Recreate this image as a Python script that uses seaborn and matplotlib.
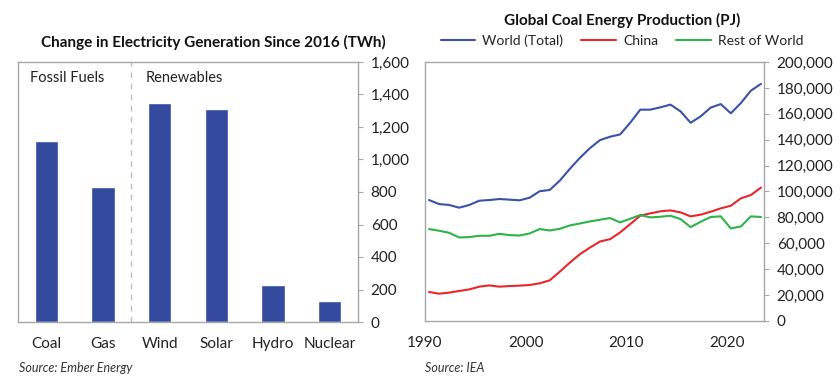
import numpy as np
import matplotlib.pyplot as plt
import matplotlib.ticker as mticker
import pandas as pd
import seaborn as sns

# left panel: change in generation since 2016 (TWh)
categories = ["Coal", "Gas", "Wind", "Solar", "Hydro", "Nuclear"]
change_twh = [1115, 830, 1350, 1310, 228, 128]

# right panel: global coal energy production (PJ)
years = list(range(1990, 2024))
world = [93400, 90300, 89600, 87500, 89600, 92900, 93400, 94200, 93700, 93200,
         95200, 100200, 101200, 108400, 117500, 126000, 133500, 139700, 142300, 144100,
         153100, 163200, 163200, 165000, 167100, 161900, 153100, 158000, 164800, 167500,
         160400, 168300, 177900, 183100]
china = [22400, 21100, 21900, 23200, 24400, 26500, 27500, 26500, 27000, 27300,
         27800, 29100, 31400, 38100, 45100, 51600, 56700, 61400, 63200, 68400,
         74800, 81300, 83100, 84700, 85400, 83900, 80800, 82100, 84400, 87000,
         89000, 94700, 97300, 103000]
rest = [71000, 69700, 68100, 64500, 64800, 65800, 65800, 67300, 66300, 66000,
        67600, 71000, 69900, 71200, 73800, 75300, 76900, 78200, 79500, 76100,
        79000, 81800, 80000, 80500, 81300, 78700, 72500, 76600, 80300, 80800,
        71500, 73000, 80800, 80300]
series_names = ["World (Total)", "China", "Rest of World"]
series_colors = ["#3a51a8", "#e8262c", "#2db34a"]

sns.set_style("white")
plt.rcParams["font.family"] = ["Lato", "DejaVu Sans"]

GREY = "#a6a6a6"
TXT = "#222222"

fig = plt.figure(figsize=(8.4, 3.89), dpi=100)
ax1 = fig.add_axes([18 / 840, 1 - 322 / 389, 340 / 840, 260 / 389])
ax2 = fig.add_axes([425 / 840, 1 - 321 / 389, 339 / 840, 259 / 389])

# ---- bars
bars = pd.DataFrame({"cat": categories, "val": change_twh})
sns.barplot(data=bars, x="cat", y="val", color="#344a9e", width=0.41,
            saturation=1, ax=ax1)
ax1.set_xlim(-0.5, 5.5)
ax1.set_ylim(0, 1600)
ax1.set_yticks(np.arange(0, 1601, 200))
ax1.yaxis.set_major_formatter(mticker.StrMethodFormatter("{x:,.0f}"))
ax1.yaxis.tick_right()
ax1.set_xticks(np.arange(-0.5, 5.6, 1), minor=True)
ax1.tick_params(axis="x", which="major", length=0, pad=10.5)
ax1.tick_params(axis="x", which="minor", length=3.6, color=GREY, width=1)
ax1.axvline(1.5, color="#bdbdbd", lw=1, ls=(0, (4, 4)))
ax1.text(0.035, 0.94, "Fossil Fuels", transform=ax1.transAxes, fontsize=10.5,
         color=TXT, va="center")
ax1.text(0.375, 0.94, "Renewables", transform=ax1.transAxes, fontsize=10.5,
         color=TXT, va="center")
ax1.set_xlabel("")
ax1.set_ylabel("")

# ---- lines
df = pd.DataFrame({"year": years, series_names[0]: world,
                   series_names[1]: china, series_names[2]: rest})
long = df.melt(id_vars="year", var_name="series", value_name="pj")
long["x"] = long["year"] + 0.4  # mid-year positions
sns.lineplot(data=long, x="x", y="pj", hue="series", hue_order=series_names,
             palette=series_colors, linewidth=1.5, ax=ax2, legend=False)
ax2.set_xlim(1990, 2023.7)
ax2.set_xticks([1990, 2000, 2010, 2020])
ax2.set_ylim(0, 200000)
ax2.set_yticks(np.arange(0, 200001, 20000))
ax2.yaxis.set_major_formatter(mticker.StrMethodFormatter("{x:,.0f}"))
ax2.yaxis.tick_right()
ax2.set_xlabel("")
ax2.set_ylabel("")
ax2.tick_params(axis="x", length=3.6, pad=7)

for ax in (ax1, ax2):
    for sp in ax.spines.values():
        sp.set_color(GREY)
        sp.set_linewidth(1)
    ax.tick_params(axis="y", length=3.6, pad=5.5)
    ax.tick_params(colors=GREY, labelcolor=TXT, labelsize=11)

handles = [plt.Line2D([], [], color=c, lw=1.5) for c in series_colors]
fig.legend(handles, series_names, loc="center", bbox_to_anchor=(622 / 840, 1 - 41 / 389),
           ncol=3, frameon=False, fontsize=10, handlelength=2.5, columnspacing=1.3,
           handletextpad=0.5, labelcolor=TXT)

fig.text(213 / 840, 1 - 42 / 389, "Change in Electricity Generation Since 2016 (TWh)",
         ha="center", va="center", fontsize=11, fontweight="bold", color="#111111")
fig.text(622 / 840, 1 - 20 / 389, "Global Coal Energy Production (PJ)",
         ha="center", va="center", fontsize=11, fontweight="bold", color="#111111")
fig.text(19 / 840, 1 - 368 / 389, "Source: Ember Energy", fontsize=9, style="italic",
         color="#333333", va="center")
fig.text(425 / 840, 1 - 368 / 389, "Source: IEA", fontsize=9, style="italic",
         color="#333333", va="center")

fig.savefig("out.png", dpi=100)
